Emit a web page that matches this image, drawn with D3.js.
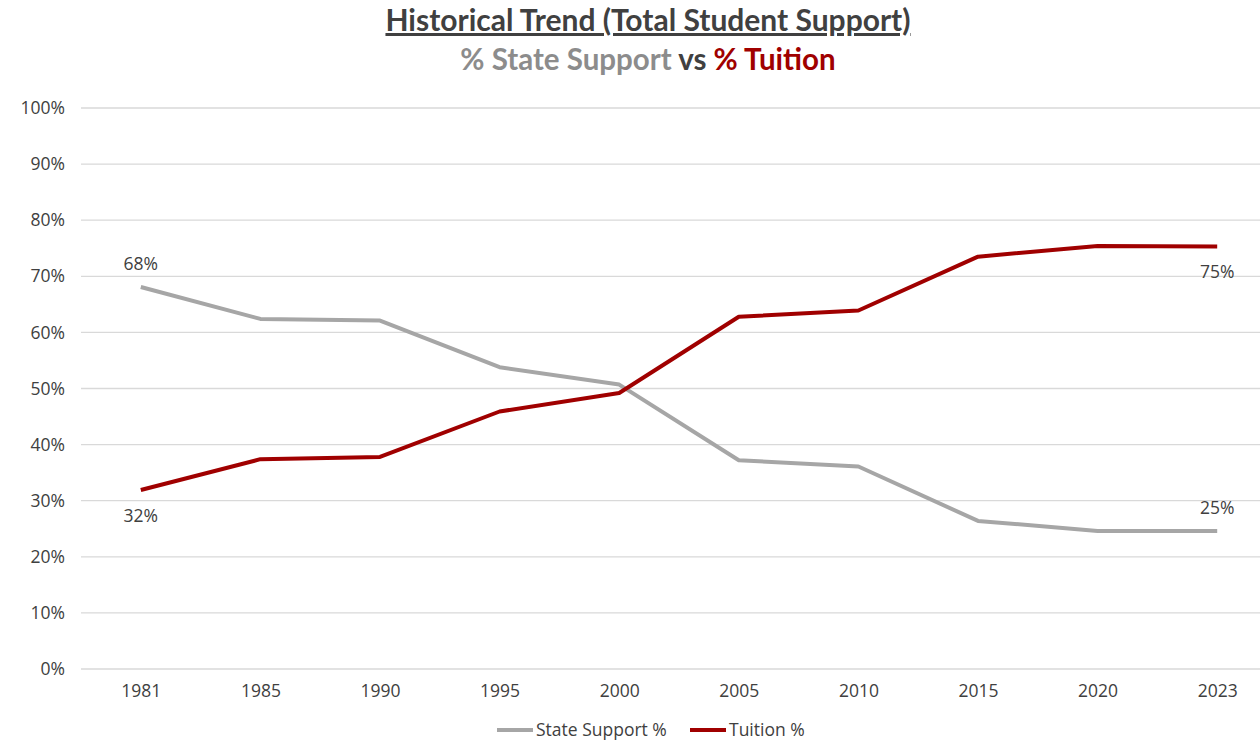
<!DOCTYPE html>
<html>
<head>
<meta charset="utf-8">
<script src="https://cdn.jsdelivr.net/npm/d3@7"></script>
<style>
  body { margin: 0; background: #fff; }
  .axis text { font-family: "Open Sans", sans-serif; font-size: 17.5px; fill: #404040; }
  .axis path, .axis line { display: none; }
  .grid line { stroke: #d9d9d9; stroke-width: 1.3; }
</style>
</head>
<body>
<svg id="chart" width="1260" height="741"></svg>
<script>
var years = ["1981", "1985", "1990", "1995", "2000", "2005", "2010", "2015", "2020", "2023"];
var stateSupport = [68.1, 62.4, 62.1, 53.8, 50.7, 37.2, 36.1, 26.4, 24.6, 24.6];
var tuition = [31.9, 37.4, 37.8, 45.9, 49.2, 62.8, 63.9, 73.5, 75.4, 75.3];
var yTicks = [0, 10, 20, 30, 40, 50, 60, 70, 80, 90, 100];

var margin = {top: 108, right: -17, bottom: 72, left: 81},
    width = 1260 - margin.left - margin.right,
    height = 741 - margin.top - margin.bottom;

var svg = d3.select("#chart");
var g = svg.append("g")
    .attr("transform", "translate(" + margin.left + "," + margin.top + ")");

var x = d3.scalePoint()
    .domain(years)
    .range([0, width])
    .padding(0.5);

var y = d3.scaleLinear()
    .domain([0, 100])
    .range([height, 0]);

// gridlines
g.append("g")
    .attr("class", "grid")
    .selectAll("line")
    .data(yTicks)
    .enter().append("line")
    .attr("x1", 0)
    .attr("x2", width)
    .attr("y1", function(d) { return y(d); })
    .attr("y2", function(d) { return y(d); });

g.append("g")
    .attr("class", "y axis")
    .call(d3.axisLeft(y).tickValues(yTicks).tickSize(0).tickPadding(16)
        .tickFormat(function(d) { return d + "%"; }));

g.append("g")
    .attr("class", "x axis")
    .attr("transform", "translate(0," + height + ")")
    .call(d3.axisBottom(x).tickSize(0).tickPadding(16));

var line = d3.line()
    .x(function(d, i) { return x(years[i]); })
    .y(function(d) { return y(d); });

var series = [
    {name: "State Support %", values: stateSupport, color: "#a6a6a6"},
    {name: "Tuition %", values: tuition, color: "#a00000"}
];

series.forEach(function(s) {
    g.append("path")
        .datum(s.values)
        .attr("fill", "none")
        .attr("stroke", s.color)
        .attr("stroke-width", 4)
        .attr("stroke-linejoin", "round")
        .attr("d", line);
});

// end labels
var last = years.length - 1;
var labels = [
    {i: 0, v: stateSupport[0], dy: -17},
    {i: 0, v: tuition[0], dy: 32},
    {i: last, v: tuition[last], dy: 31},
    {i: last, v: stateSupport[last], dy: -17}
];
g.selectAll(".dlabel")
    .data(labels)
    .enter().append("text")
    .attr("class", "dlabel")
    .attr("x", function(d) { return x(years[d.i]); })
    .attr("y", function(d) { return y(d.v) + d.dy; })
    .attr("text-anchor", "middle")
    .style("font-family", "Open Sans, sans-serif")
    .style("font-size", "17.5px")
    .style("fill", "#404040")
    .text(function(d) { return Math.round(d.v) + "%"; });

// title
svg.append("text")
    .attr("x", 648)
    .attr("y", 31)
    .attr("text-anchor", "middle")
    .style("font-family", "Lato, sans-serif")
    .style("font-weight", "bold")
    .style("font-size", "30px")
    .style("fill", "#404040")
    .style("text-decoration", "underline")
    .text("Historical Trend (Total Student Support)");

var sub = svg.append("text")
    .attr("x", 648)
    .attr("y", 70)
    .attr("text-anchor", "middle")
    .style("font-family", "Lato, sans-serif")
    .style("font-weight", "bold")
    .style("font-size", "29.5px");
sub.append("tspan").style("fill", "#8c8c8c").text("% State Support");
sub.append("tspan").style("fill", "#404040").text(" vs ");
sub.append("tspan").style("fill", "#a00000").text("% Tuition");

// legend
var legend = svg.append("g").attr("transform", "translate(497,730)");
var lx = [0, 193];
series.forEach(function(s, i) {
    var item = legend.append("g").attr("transform", "translate(" + lx[i] + ",0)");
    item.append("line")
        .attr("x1", 0).attr("x2", 36)
        .attr("y1", 0).attr("y2", 0)
        .attr("stroke", s.color)
        .attr("stroke-width", 4);
    item.append("text")
        .attr("x", 39)
        .attr("y", 6)
        .style("font-family", "Open Sans, sans-serif")
        .style("font-size", "17.5px")
        .style("fill", "#404040")
        .text(s.name);
});
</script>
</body>
</html>
